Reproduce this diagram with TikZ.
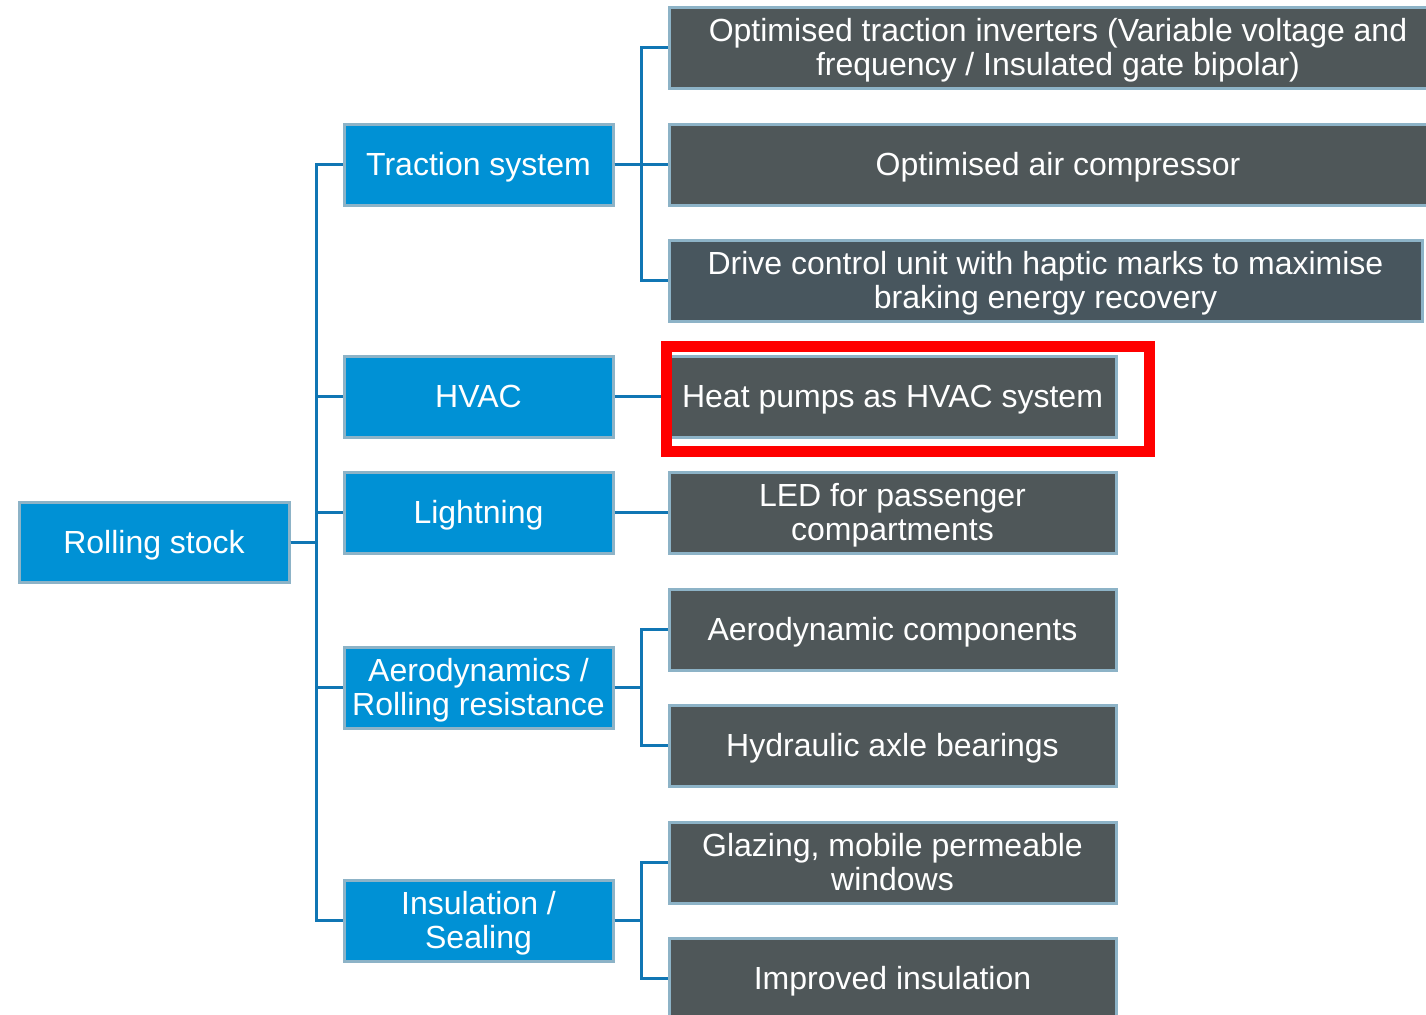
\documentclass[tikz,border=0pt]{standalone}
\usepackage{fontspec}
\setmainfont{Liberation Sans}
\definecolor{boxblue}{RGB}{0,145,213}
\definecolor{boxdark}{RGB}{79,87,89}
\definecolor{boxslate}{RGB}{72,86,94}
\definecolor{rim}{RGB}{141,179,199}
\definecolor{wire}{RGB}{16,118,180}
\begin{document}
\begin{tikzpicture}[x=0.75pt,y=-0.75pt,
  box/.style={draw=rim,line width=2.25pt,text=white,align=center,
    inner sep=0pt,font=\fontsize{24}{25.5}\selectfont,
    text height=21.7pt,text depth=5.1pt},
  twolines/.style={text height=47.2pt},
  rootbox/.style={box,fill=boxblue,minimum width=202.5pt,minimum height=60pt},
  catbox/.style={box,fill=boxblue,minimum width=201.75pt,minimum height=60.75pt},
  itembox/.style={box,fill=boxdark,minimum width=335.25pt,minimum height=60.75pt},
  widebox/.style={box,fill=boxdark,minimum width=583.5pt,minimum height=60.75pt},
  conn/.style={draw=wire,line width=2.25pt}]
\useasboundingbox (0,0) rectangle (1426,1014);
% root and categories
\node[rootbox] (root) at (154,542) {Rolling stock};
\node[catbox] (trac) at (478.5,164.5) {Traction system};
\node[catbox] (hvac) at (478.5,396.5) {HVAC};
\node[catbox] (light) at (478.5,512.5) {Lightning};
\node[catbox,twolines] (aero) at (478.5,687.5) {Aerodynamics /\\Rolling resistance};
\node[catbox,twolines] (ins) at (478.5,920.5) {Insulation /\\Sealing};
% measures
\node[widebox,twolines] (inv) at (1058,47.5) {Optimised traction inverters (Variable voltage and\\frequency / Insulated gate bipolar)};
\node[widebox] (comp) at (1058,164.5) {Optimised air compressor};
\node[widebox,twolines,fill=boxslate,minimum width=564.75pt] (drive) at (1045.5,280.5) {Drive control unit with haptic marks to maximise\\braking energy recovery};
\node[itembox] (heat) at (892.5,396.5) {Heat pumps as HVAC system};
\node[itembox,twolines] (led) at (892.5,512.5) {LED for passenger\\compartments};
\node[itembox] (aerocomp) at (892.5,629.5) {Aerodynamic components};
\node[itembox] (hyd) at (892.5,745.5) {Hydraulic axle bearings};
\node[itembox,twolines] (glaz) at (892.5,862.5) {Glazing, mobile permeable\\windows};
\node[itembox] (impr) at (892.5,978.5) {Improved insulation};
% bus lines
\coordinate (busA) at (316,542);
\coordinate (busB) at (641,0);
\foreach \c in {trac,hvac,light,aero,ins}
  \draw[conn] (root.east) -- (busA) |- (\c.west);
\foreach \c in {inv,comp,drive}
  \draw[conn] (trac.east) -- (busB |- trac.east) |- (\c.west);
\draw[conn] (hvac.east) -- (heat.west);
\draw[conn] (light.east) -- (led.west);
\foreach \c in {aerocomp,hyd}
  \draw[conn] (aero.east) -- (busB |- aero.east) |- (\c.west);
\foreach \c in {glaz,impr}
  \draw[conn] (ins.east) -- (busB |- ins.east) |- (\c.west);
% highlight frame
\node[draw=red,line width=8.25pt,minimum width=362.25pt,minimum height=78.75pt,inner sep=0pt] (mark) at (908,399) {};
\end{tikzpicture}
\end{document}
